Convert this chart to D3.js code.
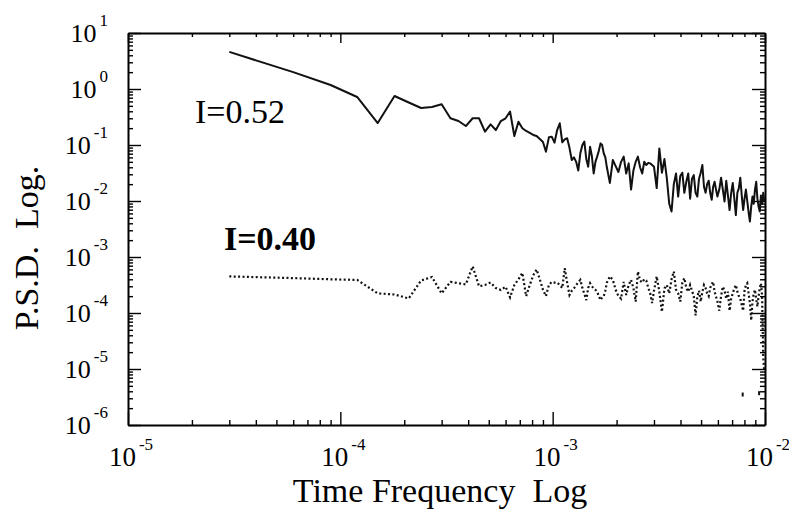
<!DOCTYPE html>
<html>
<head>
<meta charset="utf-8">
<script src="https://cdnjs.cloudflare.com/ajax/libs/d3/7.8.5/d3.min.js"></script>
<style>
  body { margin: 0; background: #fff; }
  svg { display: block; font-family: "Liberation Serif", "Times New Roman", serif; }
  .axis path { stroke: #000; stroke-width: 2; fill: none; }
  .axis line { stroke: #000; stroke-width: 1.4; }
  .series { fill: none; stroke: #111; }
  .solid { stroke-width: 2; stroke-linejoin: round; }
  .dotted { stroke-width: 2.2; stroke-dasharray: 2 2.4; }
</style>
</head>
<body>
<svg class="chart" width="789" height="509"></svg>
<script>
// frequencies (Hz), shared by both spectra
var freq = [
  3e-5, 6e-5, 9e-5, 12e-5, 15e-5, 18e-5, 21e-5, 24e-5, 27e-5, 30e-5, 33e-5, 36e-5,
  39e-5, 42e-5, 45e-5, 48e-5, 51e-5, 54e-5, 57e-5, 60e-5, 63e-5, 66e-5, 69e-5, 72e-5,
  75e-5, 78e-5, 81e-5, 84e-5, 87e-5, 90e-5, 93e-5, 96e-5, 99e-5, 102e-5, 105e-5, 108e-5,
  111e-5, 114e-5, 117e-5, 120e-5, 123e-5, 126e-5, 129e-5, 132e-5, 135e-5, 138e-5, 141e-5, 144e-5,
  147e-5, 150e-5, 153e-5, 156e-5, 159e-5, 162e-5, 165e-5, 168e-5, 171e-5, 174e-5, 177e-5, 180e-5,
  186e-5, 192e-5, 198e-5, 204e-5, 210e-5, 216e-5, 222e-5, 228e-5, 234e-5, 240e-5,
  246e-5, 252e-5, 258e-5, 264e-5, 270e-5, 276e-5, 282e-5, 288e-5, 294e-5, 300e-5,
  309e-5, 318e-5, 327e-5, 336e-5, 345e-5, 354e-5, 363e-5, 372e-5, 381e-5, 390e-5, 399e-5,
  408e-5, 417e-5, 426e-5, 435e-5, 444e-5, 453e-5, 462e-5, 471e-5, 480e-5, 489e-5, 498e-5,
  507e-5, 516e-5, 525e-5, 534e-5, 543e-5, 552e-5, 561e-5, 570e-5, 579e-5, 588e-5, 597e-5,
  609e-5, 621e-5, 633e-5, 645e-5, 657e-5, 669e-5, 681e-5, 693e-5, 705e-5, 717e-5, 729e-5,
  741e-5, 753e-5, 765e-5, 777e-5, 789e-5, 801e-5, 813e-5, 825e-5, 837e-5, 849e-5, 861e-5,
  873e-5, 885e-5, 897e-5, 909e-5, 921e-5, 933e-5, 945e-5, 957e-5, 969e-5, 981e-5, 993e-5
];

// I=0.52 spectrum (solid)
var psdSolid = [
  4.6, 2.0, 1.18, 0.72, 0.247, 0.75, 0.574, 0.458, 0.477, 0.533, 0.30, 0.268,
  0.218, 0.30, 0.30, 0.173, 0.234, 0.185, 0.268, 0.30, 0.394, 0.145, 0.26, 0.199,
  0.178, 0.164, 0.151, 0.145, 0.128, 0.113, 0.076, 0.137, 0.141, 0.11, 0.185, 0.244,
  0.112, 0.126, 0.132, 0.089, 0.054, 0.060, 0.050, 0.035, 0.071, 0.10, 0.115, 0.056,
  0.041, 0.093, 0.063, 0.031, 0.050, 0.062, 0.079, 0.107, 0.10, 0.071, 0.060, 0.040,
  0.021, 0.054, 0.042, 0.033, 0.050, 0.062, 0.031, 0.047, 0.016, 0.035,
  0.050, 0.062, 0.040, 0.031, 0.050, 0.044, 0.048, 0.047, 0.044, 0.041,
  0.017, 0.087, 0.032, 0.056, 0.025, 0.0089, 0.0065, 0.020, 0.031, 0.012, 0.028,
  0.032, 0.014, 0.022, 0.031, 0.011, 0.025, 0.029, 0.014, 0.012, 0.025, 0.032,
  0.044, 0.018, 0.014, 0.020, 0.023, 0.014, 0.0105, 0.018, 0.022, 0.016, 0.012,
  0.016, 0.026, 0.016, 0.0098, 0.023, 0.0126, 0.0069, 0.014, 0.021, 0.011, 0.0056,
  0.014, 0.017, 0.026, 0.0126, 0.0069, 0.011, 0.016, 0.010, 0.0063, 0.0043, 0.0079,
  0.012, 0.0089, 0.016, 0.022, 0.011, 0.0079, 0.0065, 0.0126, 0.0089, 0.014, 0.010
];

// I=0.40 spectrum (dotted)
var psdDotted = [
  4.5e-4, 4.2e-4, 4.0e-4, 3.9e-4, 2.24e-4, 2.14e-4, 1.82e-4, 3.8e-4, 4.4e-4, 2.24e-4, 3.6e-4, 3.4e-4,
  3.24e-4, 6.8e-4, 3.0e-4, 3.16e-4, 3.5e-4, 2.8e-4, 2.57e-4, 2.95e-4, 1.9e-4, 3.16e-4, 4.0e-4, 5.2e-4,
  2.0e-4, 3.16e-4, 4.7e-4, 6.0e-4, 4.0e-4, 2.6e-4, 2.0e-4, 3.16e-4, 3.6e-4, 3.5e-4, 3.5e-4, 3.16e-4,
  2.8e-4, 6.3e-4, 3.5e-4, 2.1e-4, 2.5e-4, 2.75e-4, 3.16e-4, 3.5e-4, 3.9e-4, 2.8e-4, 2.2e-4, 1.7e-4,
  2.8e-4, 3.4e-4, 3.0e-4, 2.75e-4, 2.6e-4, 2.4e-4, 2.0e-4, 1.7e-4, 1.9e-4, 2.0e-4, 2.5e-4, 3.5e-4,
  4.5e-4, 3.9e-4, 2.6e-4, 2.0e-4, 1.8e-4, 3.6e-4, 2.1e-4, 3.16e-4, 3.9e-4, 2.8e-4,
  1.6e-4, 5.5e-4, 3.8e-4, 3.5e-4, 4.0e-4, 3.8e-4, 2.8e-4, 2.24e-4, 1.5e-4, 2.5e-4,
  4.5e-4, 2.4e-4, 1.05e-4, 2.75e-4, 3.16e-4, 2.24e-4, 4.0e-4, 5.5e-4, 2.6e-4, 2.24e-4, 1.6e-4,
  3.5e-4, 4.2e-4, 2.8e-4, 2.4e-4, 3.16e-4, 2.5e-4, 2.0e-4, 9.1e-5, 1.95e-4, 2.5e-4, 1.6e-4,
  2.4e-4, 3.16e-4, 2.8e-4, 2.24e-4, 2.0e-4, 2.8e-4, 3.3e-4, 3.6e-4, 2.4e-4, 1.95e-4, 1.6e-4,
  1.1e-4, 2.0e-4, 2.95e-4, 2.5e-4, 1.8e-4, 2.4e-4, 1.1e-4, 1.8e-4, 2.24e-4, 2.75e-4, 3.16e-4,
  2.4e-4, 2.0e-4, 1.8e-4, 1.4e-4, 1.1e-4, 2.5e-4, 3.16e-4, 3.4e-4, 2.24e-4, 1.5e-4, 7.4e-5,
  1.6e-4, 2.24e-4, 2.6e-4, 1.8e-4, 1.3e-4, 2.0e-4, 2.8e-4, 3.4e-4, 2.0e-4, 1.6e-5, 8.9e-6
];

// two stray dots near the bottom right
var strayFreq = [7.85e-3, 9.38e-3];
var strayPsd = [3.5e-6, 3.7e-6];

var xDecades = [1e-5, 1e-4, 1e-3, 1e-2];
var yDecades = [1e-6, 1e-5, 1e-4, 1e-3, 1e-2, 1e-1, 1e0, 1e1];
var xExponents = ["-5", "-4", "-3", "-2"];
var yExponents = ["-6", "-5", "-4", "-3", "-2", "-1", "0", "1"];

var margin = {top: 33, right: 24, bottom: 84, left: 128};

var svg = d3.select(".chart"),
    width = +svg.attr("width") - margin.left - margin.right,
    height = +svg.attr("height") - margin.top - margin.bottom;

var chart = svg.append("g")
  .attr("transform", "translate(" + margin.left + "," + margin.top + ")");

var x = d3.scaleLog().domain([1e-5, 1e-2]).range([0, width]);
var y = d3.scaleLog().domain([1e-6, 1e1]).range([height, 0]);

function minors(decades) {
  var out = [];
  decades.slice(0, -1).forEach(function(d) {
    for (var m = 2; m <= 9; m++) out.push(m * d);
  });
  return out;
}

var xMinor = minors(xDecades),
    yMinor = minors(yDecades);

// axes: ticks point inward on all four sides
function drawAxis(axisFn, scale, transform, major, minor, bigLen, smallLen) {
  var g = chart.append("g").attr("class", "axis").attr("transform", transform);
  g.call(axisFn(scale).tickValues(minor).tickSizeInner(-smallLen).tickSizeOuter(0).tickFormat(""));
  var g2 = chart.append("g").attr("class", "axis").attr("transform", transform);
  g2.call(axisFn(scale).tickValues(major).tickSizeInner(-bigLen).tickSizeOuter(0).tickFormat(""));
  g2.select(".domain").remove();
}

drawAxis(d3.axisBottom, x, "translate(0," + height + ")", xDecades, xMinor, 13, 5);
drawAxis(d3.axisTop, x, "translate(0,0)", xDecades, xMinor, 10, 4);
drawAxis(d3.axisLeft, y, "translate(0,0)", yDecades, yMinor, 13, 5);
drawAxis(d3.axisRight, y, "translate(" + width + ",0)", yDecades, yMinor, 13, 5);

// tick labels as 10 with superscript exponent
var yLab = chart.append("g").selectAll("text")
  .data(yDecades)
  .enter().append("text")
  .attr("text-anchor", "end")
  .attr("x", -20)
  .attr("y", function(d) { return y(d) + 9; })
  .style("font-size", "26px");
yLab.append("tspan").text("10");
yLab.append("tspan")
  .attr("dy", -16)
  .attr("dx", 3)
  .style("font-size", "17px")
  .text(function(d, i) { return yExponents[i]; });

var xLab = chart.append("g").selectAll("text")
  .data(xDecades)
  .enter().append("text")
  .attr("text-anchor", "middle")
  .attr("x", function(d) { return x(d) + 3; })
  .attr("y", height + 41)
  .style("font-size", "27px");
xLab.append("tspan").text("10");
xLab.append("tspan")
  .attr("dy", -16)
  .attr("dx", 3)
  .style("font-size", "17px")
  .text(function(d, i) { return xExponents[i]; });

// spectra
var solidData = freq.map(function(f, i) { return {f: f, p: psdSolid[i]}; });
var dottedData = freq.map(function(f, i) { return {f: f, p: psdDotted[i]}; });

var line = d3.line()
  .x(function(d) { return x(d.f); })
  .y(function(d) { return y(d.p); });

chart.append("path")
  .datum(solidData)
  .attr("class", "series solid")
  .attr("d", line);

chart.append("path")
  .datum(dottedData)
  .attr("class", "series dotted")
  .attr("d", line);

chart.selectAll(".stray")
  .data(strayFreq)
  .enter().append("rect")
  .attr("class", "stray")
  .attr("x", function(d) { return x(d) - 1; })
  .attr("y", function(d, i) { return y(strayPsd[i]) - 2; })
  .attr("width", 2)
  .attr("height", 4)
  .attr("fill", "#111");

// annotations
chart.append("text")
  .attr("x", 195 - margin.left)
  .attr("y", 123 - margin.top)
  .style("font-size", "34px")
  .text("I=0.52");

chart.append("text")
  .attr("x", 224 - margin.left)
  .attr("y", 250 - margin.top)
  .style("font-size", "34px")
  .style("font-weight", "bold")
  .text("I=0.40");

// axis titles
svg.append("text")
  .attr("text-anchor", "middle")
  .attr("transform", "translate(38,248) rotate(-90)")
  .style("font-size", "34px")
  .style("white-space", "pre")
  .text("P.S.D.  Log.");

svg.append("text")
  .attr("text-anchor", "middle")
  .attr("x", 440)
  .attr("y", 502)
  .style("font-size", "34px")
  .style("white-space", "pre")
  .text("Time Frequency  Log");
</script>
</body>
</html>
